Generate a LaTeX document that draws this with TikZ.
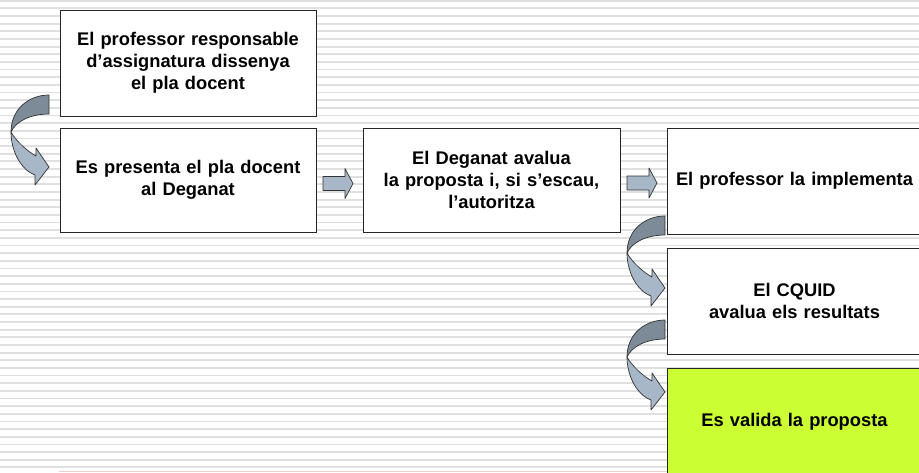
\documentclass[tikz,border=0pt]{standalone}
\usepackage{fontspec}
\setmainfont{Liberation Sans}
\usetikzlibrary{calc}
\definecolor{arrdark}{HTML}{7D8B99}
\definecolor{arrlight}{HTML}{A7B7C7}
\definecolor{valgreen}{HTML}{CCFF33}
\definecolor{stripecol}{HTML}{E0E0E0}
\definecolor{pinkline}{HTML}{F0CFCF}
\begin{document}
\begin{tikzpicture}[x=1pt,y=-1pt,
  box/.style={draw=black!85, line width=0.9pt, fill=white, align=center,
    font=\bfseries\fontsize{18.3}{22}\selectfont, inner sep=0pt, outer sep=0pt},
  arrowline/.style={draw=black!80, line width=0.7pt, line join=round},
  blockarrow/.pic={
    \draw[arrowline, fill=arrlight] (0,-7) -- (22,-7) -- (22,-15) -- (30,0) -- (22,15) -- (22,7) -- (0,7) -- cycle;
  },
  curvedarrow/.pic={
    \draw[arrowline, fill=arrdark] (0,0) .. controls (-20,0) and (-38,14) .. (-38,37)
      .. controls (-33,26) and (-18,19) .. (0,19) -- cycle;
    \draw[arrowline, fill=arrlight] (-38,37) .. controls (-38,56) and (-28,75) .. (-14,80)
      -- (-14,90) -- (0,72) -- (-13,53) -- (-13,61)
      .. controls (-22,56) and (-33,46) .. (-38,37) -- cycle;
  }]
\useasboundingbox (0,0) rectangle (919,472);
\clip (0,0) rectangle (919,472);
\fill[white] (0,0) rectangle (919,472);
\foreach \k in {0,...,61}
  \draw[stripecol, line width=1.8pt] (0,{0.7+7.65*\k}) -- (919,{0.7+7.65*\k});
\draw[pinkline, line width=1pt] (59,471.3) -- (667,471.3);

\node[box, text width=256pt, minimum height=106pt] (b1) at (188,63)
  {El professor responsable\\d’assignatura dissenya\\el pla docent};
\node[box, text width=256pt, minimum height=104pt] (b2) at (188,180)
  {Es presenta el pla docent\\al Deganat};
\node[box, text width=257pt, minimum height=104pt] (b3) at (491.5,180)
  {El Deganat avalua\\la proposta i, si s’escau,\\l’autoritza};
\node[box, text width=255pt, minimum height=106pt] (b4) at (794.5,181)
  {El professor la implementa};
\node[box, text width=255pt, minimum height=106pt] (b5) at (794.5,301)
  {El CQUID\\avalua els resultats};
\node[box, fill=valgreen, text width=255pt, minimum height=108pt] (b6) at (794.5,422)
  {Es valida la proposta};

\pic at ($(b2.east)+(7,3.5)$) {blockarrow};
\pic at ($(b3.east)+(7,3)$) {blockarrow};
\pic at ($(b1.south west)+(-11,-21)$) {curvedarrow};
\pic at ($(b4.south west)+(-2,-18)$) {curvedarrow};
\pic at ($(b5.south west)+(-2,-34)$) {curvedarrow};
\end{tikzpicture}
\end{document}
